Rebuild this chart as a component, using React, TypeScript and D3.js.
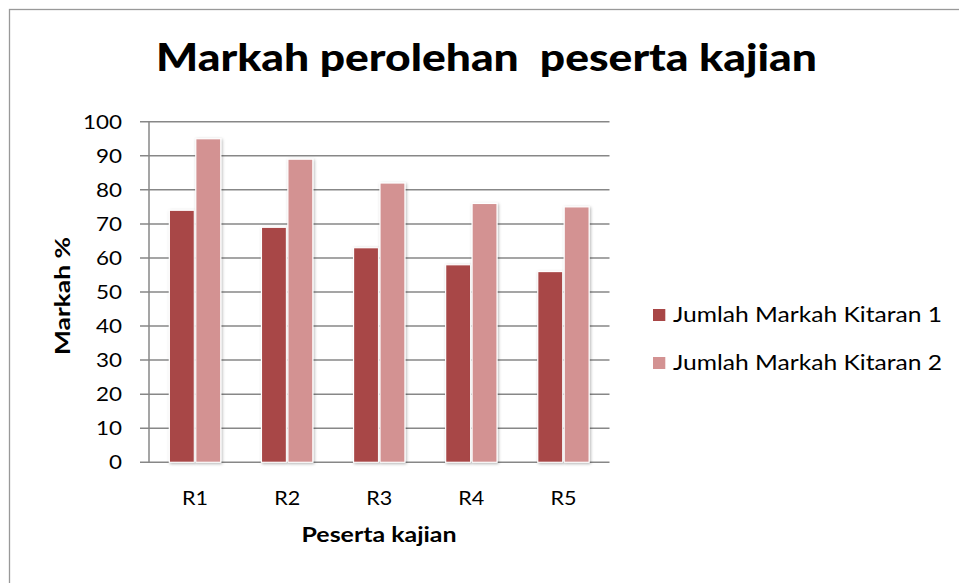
import * as d3 from "d3";

const WIDTH = 959;
const HEIGHT = 583;
const PLOT = { left: 149, right: 609.5, top: 121.7, bottom: 462.3 };

const categories = ["R1", "R2", "R3", "R4", "R5"];
const seriesNames = ["Jumlah Markah Kitaran 1", "Jumlah Markah Kitaran 2"];
const round1 = [74, 69, 63, 58, 56];
const round2 = [95, 89, 82, 76, 75];
const yTicks = [0, 10, 20, 30, 40, 50, 60, 70, 80, 90, 100];
const colors = ["#A84646", "#D39292"];

const FONT = "Lato, 'Open Sans', sans-serif";

export default function App() {
  const xScale = d3
    .scaleBand()
    .domain(categories)
    .range([PLOT.left, PLOT.right])
    .paddingInner(0.442)
    .paddingOuter(0.221);

  const xInner = d3
    .scaleBand()
    .domain(seriesNames)
    .range([0, xScale.bandwidth()])
    .paddingInner(0.055);

  const yScale = d3.scaleLinear().domain([0, 100]).range([PLOT.bottom, PLOT.top]);

  const seriesValues = [round1, round2];

  // bars for both rounds
  const allBars = seriesNames.flatMap((name, s) =>
    categories.map((cat, i) => {
      const v = seriesValues[s][i];
      const x = (xScale(cat) || 0) + (xInner(name) || 0);
      return (
        <rect
          key={name + cat}
          x={x}
          y={yScale(v)}
          width={xInner.bandwidth()}
          height={yScale(0) - yScale(v)}
          fill={colors[s]}
          stroke="#ffffff"
          strokeWidth={1.2}
          filter="url(#shadow)"
        />
      );
    })
  );

  return (
    <svg
      width={WIDTH}
      height={HEIGHT}
      style={{ position: "absolute", left: 0, top: 0, background: "#fff" }}
    >
      <defs>
        <filter id="shadow" x="-30%" y="-10%" width="160%" height="120%">
          <feDropShadow dx={1} dy={1} stdDeviation={1.6} floodColor="#000" floodOpacity={0.3} />
        </filter>
      </defs>
      <rect x={0} y={0} width={WIDTH} height={HEIGHT} fill="#fff" />
      {/* outer frame, cut off at right and bottom */}
      <rect x={9.5} y={9.5} width={1200} height={1200} fill="none" stroke="#999999" strokeWidth={1.3} />

      <text
        x={156}
        y={71}
        fontFamily={FONT}
        fontWeight="900"
        fontSize={38}
        textLength={661}
        lengthAdjust="spacingAndGlyphs"
        fill="#000"
        style={{ whiteSpace: "pre" }}
      >
        {"Markah perolehan  peserta kajian"}
      </text>

      {/* gridlines with tick stubs */}
      {yTicks.map((t) => (
        <line
          key={t}
          x1={140}
          x2={PLOT.right}
          y1={yScale(t)}
          y2={yScale(t)}
          stroke="#878787"
          strokeWidth={1.5}
        />
      ))}
      <line x1={PLOT.left} x2={PLOT.left} y1={PLOT.top} y2={PLOT.bottom} stroke="#878787" strokeWidth={1.5} />

      {yTicks.map((t) => (
        <text
          key={"l" + t}
          x={122}
          y={yScale(t) + 7}
          textAnchor="end"
          fontFamily={FONT}
          fontSize={19}
          textLength={String(t).length * 13}
          lengthAdjust="spacingAndGlyphs"
          fill="#000"
        >
          {t}
        </text>
      ))}

      {allBars}

      {categories.map((cat) => (
        <text
          key={"c" + cat}
          x={(xScale(cat) || 0) + xScale.bandwidth() / 2}
          y={505}
          textAnchor="middle"
          fontFamily={FONT}
          fontSize={20}
          textLength={26}
          lengthAdjust="spacingAndGlyphs"
          fill="#000"
        >
          {cat}
        </text>
      ))}

      <text
        x={379}
        y={541.5}
        textAnchor="middle"
        fontFamily={FONT}
        fontWeight="bold"
        fontSize={21}
        textLength={155}
        lengthAdjust="spacingAndGlyphs"
        fill="#000"
      >
        Peserta kajian
      </text>

      <text
        transform="translate(69.5,296) rotate(-90)"
        textAnchor="middle"
        fontFamily={FONT}
        fontWeight="bold"
        fontSize={21}
        textLength={118}
        lengthAdjust="spacingAndGlyphs"
        fill="#000"
      >
        Markah %
      </text>

      {/* legend */}
      {seriesNames.map((name, s) => (
        <g key={"lg" + name} transform={`translate(653,${309 + s * 48})`}>
          <rect x={0} y={0} width={12.3} height={12} fill={colors[s]} />
          <text
            x={20}
            y={12.7}
            fontFamily={FONT}
            fontSize={21}
            textLength={269}
            lengthAdjust="spacingAndGlyphs"
            fill="#000"
          >
            {name}
          </text>
        </g>
      ))}
    </svg>
  );
}
